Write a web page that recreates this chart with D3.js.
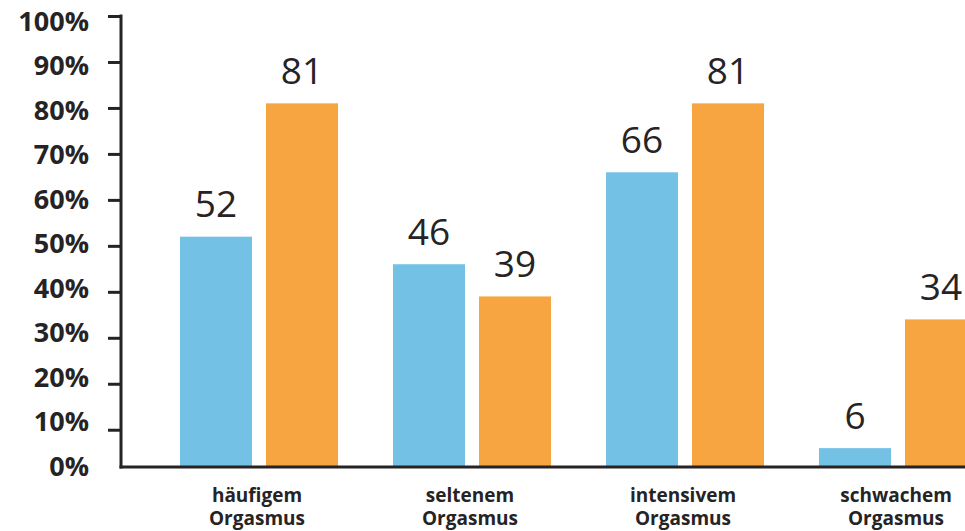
<!DOCTYPE html>
<html>
<head>
<meta charset="utf-8">
<script src="https://cdn.jsdelivr.net/npm/d3@7"></script>
<style>
  html, body { margin: 0; padding: 0; background: #fff; }
  svg { display: block; }
</style>
</head>
<body>
<svg id="chart" width="965" height="531"></svg>
<script>
// ---- data ----
const categories = ["häufigem Orgasmus", "seltenem Orgasmus", "intensivem Orgasmus", "schwachem Orgasmus"];
const seriesKeys = ["blue", "orange"];
const blueValues = [52, 46, 66, 6];
const orangeValues = [81, 39, 81, 34];
const tickValues = [0, 10, 20, 30, 40, 50, 60, 70, 80, 90, 100];
const tickLabels = ["0%", "10%", "20%", "30%", "40%", "50%", "60%", "70%", "80%", "90%", "100%"];

// ---- layout ----
const W = 965, H = 531;
const axisX = 121, baselineY = 467, topY = 16;
const colors = { blue: "#74c1e6", orange: "#f7a540" };
const ink = "#262324";
const svg = d3.select("#chart");

const y = d3.scaleLinear().domain([0, 100]).range([475.7, topY]);
const yLab = d3.scaleLinear().domain([0, 100]).range([466, 21.2]);

const x0 = d3.scaleBand().domain(categories).range([152.5, 1004.5])
  .paddingInner(0.258).paddingOuter(0.129);
const x1 = d3.scaleBand().domain(seriesKeys).range([0, x0.bandwidth()])
  .paddingInner(14 / 86).paddingOuter(0);

const rows = categories.map((c, i) => ({ cat: c, blue: blueValues[i], orange: orangeValues[i] }));

// bars
const groups = svg.append("g").selectAll("g").data(rows).join("g")
  .attr("transform", d => `translate(${x0(d.cat)},0)`);
groups.selectAll("rect").data(d => seriesKeys.map(k => ({ key: k, v: d[k] }))).join("rect")
  .attr("x", d => x1(d.key))
  .attr("width", x1.bandwidth())
  .attr("y", d => y(d.v))
  .attr("height", d => baselineY - y(d.v))
  .attr("fill", d => colors[d.key]);

// value labels
groups.selectAll("text").data(d => seriesKeys.map(k => ({ key: k, v: d[k] }))).join("text")
  .attr("x", d => x1(d.key) + x1.bandwidth() / 2)
  .attr("y", d => y(d.v) - 19.5)
  .attr("text-anchor", "middle")
  .attr("font-family", "'Open Sans', sans-serif")
  .attr("font-size", 37)
  .attr("fill", ink)
  .text(d => d.v);

// y axis ticks
const yAxis = d3.axisLeft(y).tickValues(tickValues.filter(v => v > 0)).tickSize(13).tickFormat("").tickSizeOuter(0);
const ga = svg.append("g").attr("transform", `translate(${axisX},0)`).call(yAxis);
ga.select(".domain").remove();
ga.selectAll(".tick line").attr("stroke", ink).attr("stroke-width", 3);

// axis lines
svg.append("line").attr("x1", axisX).attr("x2", axisX).attr("y1", topY - 1.5).attr("y2", baselineY + 1.5)
  .attr("stroke", ink).attr("stroke-width", 3);
svg.append("line").attr("x1", axisX - 1.5).attr("x2", W).attr("y1", baselineY).attr("y2", baselineY)
  .attr("stroke", ink).attr("stroke-width", 3);

// y labels
svg.append("g").selectAll("text").data(tickValues).join("text")
  .attr("x", 89)
  .attr("y", d => yLab(d))
  .attr("dy", "0.36em")
  .attr("text-anchor", "end")
  .attr("font-family", "'Open Sans', sans-serif")
  .attr("font-weight", 700)
  .attr("font-size", 27)
  .attr("fill", ink)
  .text((d, i) => tickLabels[i]);

// category labels
const cl = svg.append("g").selectAll("text").data(categories).join("text")
  .attr("x", d => x0(d) + x0.bandwidth() / 2 - 2)
  .attr("y", 501.5)
  .attr("text-anchor", "middle")
  .attr("font-family", "'Open Sans', sans-serif")
  .attr("font-weight", 700)
  .attr("font-size", 19)
  .attr("fill", ink);
cl.selectAll("tspan").data(d => d.split(" ")).join("tspan")
  .attr("x", function () { return d3.select(this.parentNode).attr("x"); })
  .attr("dy", (d, i) => i === 0 ? 0 : 23.5)
  .text(d => d);
</script>
</body>
</html>
